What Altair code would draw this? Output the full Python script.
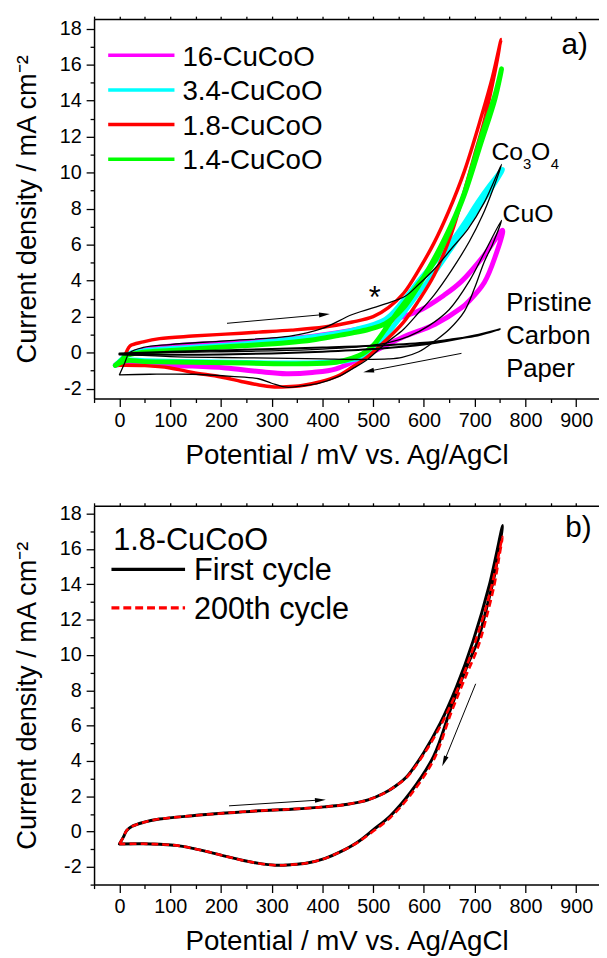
import altair as alt
import numpy as np
import pandas as pd

FONT = "Liberation Sans"

# ---------------- panel a data ----------------
labels_a = ["16-CuCoO", "3.4-CuCoO", "1.8-CuCoO", "1.4-CuCoO"]
colors_a = ["#FF00FF", "#00FFFF", "#FF0000", "#00FF00"]

cu16_x = [-8, 5, 14, 47, 79, 144, 242, 329, 427, 492, 524, 589, 640, 674, 719, 755,
          740, 719, 690, 674, 622, 557, 492, 427, 380, 329, 275, 209, 144, 80, 14, -8]
cu16_y = [-0.7, -0.4, -0.15, 0.15, 0.3, 0.45, 0.6, 0.75, 1.1, 1.45, 1.7, 2.31, 3.2, 3.96, 5.42, 6.8,
          5.3, 3.9, 2.9, 2.49, 1.58, 0.84, -0.07, -0.9, -1.1, -1.17, -1.05, -0.85, -0.75, -0.7, -0.6, -0.7]

cu34_x = [-8, 5, 14, 47, 144, 242, 329, 400, 460, 524, 557, 589, 622, 654, 680, 706, 730, 755,
          730, 706, 680, 654, 622, 589, 560, 524, 500, 479, 446, 400, 330, 250, 144, 50, 14, -8]
cu34_y = [-0.7, -0.35, -0.1, 0.1, 0.3, 0.48, 0.72, 0.95, 1.25, 1.85, 2.8, 3.96, 5.05, 6.15, 7.2, 8.35, 9.3, 10.18,
          9.0, 8.0, 6.9, 5.8, 4.5, 3.3, 2.2, 0.9, 0.1, -0.25, -0.45, -0.55, -0.58, -0.55, -0.5, -0.45, -0.42, -0.7]

cu18_x = [0, 8, 14, 21, 47, 79, 144, 209, 274, 339, 404, 459, 500, 530, 560, 590, 620, 648, 680, 713, 735, 752,
          740, 720, 700, 680, 654, 620, 589, 560, 524, 490, 459, 430, 394, 360, 329, 300, 275, 240, 200, 144, 100, 50, 0]
cu18_y = [-0.7, -0.3, 0.05, 0.38, 0.6, 0.78, 0.92, 1.03, 1.14, 1.25, 1.42, 1.7, 2.0, 2.5, 3.3, 4.6, 6.1, 7.8, 10.1, 13.1, 15.3, 17.4,
          15.6, 13.0, 11.0, 9.0, 6.6, 4.3, 2.86, 1.7, 0.66, -0.2, -0.8, -1.3, -1.63, -1.83, -1.9, -1.9, -1.8, -1.6, -1.35, -1.1, -0.85, -0.72, -0.7]

cu14_x = [-8, 5, 14, 47, 100, 144, 242, 329, 380, 427, 460, 492, 524, 557, 589, 622, 654, 680, 713, 740, 753,
          740, 713, 680, 654, 622, 589, 560, 544, 524, 500, 479, 459, 427, 362, 250, 144, 50, 14, -8]
cu14_y = [-0.71, -0.4, -0.16, 0.02, 0.12, 0.2, 0.38, 0.55, 0.7, 0.93, 1.1, 1.3, 1.61, 2.4, 3.7, 5.3, 7.1, 8.9, 12.0, 14.3, 15.77,
          14.1, 11.7, 8.8, 7.0, 5.1, 3.8, 2.7, 2.1, 1.3, 0.4, -0.07, -0.3, -0.53, -0.62, -0.58, -0.53, -0.5, -0.44, -0.71]

co3o4_x = [0, 10, 20, 47, 100, 209, 339, 400, 459, 524, 563, 590, 622, 655, 687, 719, 753,
           735, 715, 690, 655, 620, 589, 560, 524, 490, 459, 430, 394, 360, 329, 300, 274, 220, 144, 60, 0]
co3o4_y = [-1.23, -0.6, 0.0, 0.29, 0.45, 0.66, 0.93, 1.35, 2.12, 2.71, 3.13, 3.8, 4.69, 5.8, 6.88, 8.35, 10.46,
           9.0, 7.6, 6.2, 4.6, 3.2, 2.2, 1.3, 0.5, -0.35, -0.9, -1.35, -1.7, -1.85, -1.92, -1.7, -1.45, -1.32, -1.2, -1.2, -1.23]

cuo_x = [0, 100, 200, 300, 400, 480, 530, 570, 610, 650, 690, 720, 753,
         735, 719, 700, 680, 650, 622, 590, 557, 530, 480, 400, 300, 200, 100, 0]
cuo_y = [-0.07, 0.0, 0.05, 0.1, 0.2, 0.35, 0.55, 0.9, 1.5, 2.4, 4.0, 5.6, 7.35,
         6.0, 5.05, 3.6, 2.31, 1.3, 0.66, 0.05, -0.26, -0.35, -0.38, -0.35, -0.3, -0.27, -0.22, -0.1]

carbon_x = [0, 100, 200, 300, 400, 500, 600, 650, 700, 750, 700, 600, 500, 400, 300, 200, 100, 0]
carbon_y = [-0.05, 0.05, 0.12, 0.2, 0.28, 0.38, 0.55, 0.72, 0.92, 1.3, 0.95, 0.45, 0.2, 0.05, -0.05, -0.1, -0.12, -0.1]

arrow_a_x0 = [212, 674]
arrow_a_y0 = [1.63, -0.04]
arrow_a_x1 = [404, 491]
arrow_a_y1 = [2.12, -1.03]

# ---------------- panel b data ----------------
labels_b = ["First cycle", "200th cycle"]

first_x = [0, 8, 14, 25, 47, 79, 144, 209, 274, 339, 404, 450, 490, 521, 545, 567, 599, 632, 664, 697, 729, 755,
           748, 739, 723, 706, 684, 654, 619, 573, 534, 500, 469, 435, 404, 370, 339, 307, 275, 242, 210, 177, 145, 112, 80, 47, 0]
first_y = [-0.7, -0.3, 0.05, 0.3, 0.52, 0.71, 0.9, 1.05, 1.18, 1.27, 1.4, 1.55, 1.8, 2.17, 2.6, 3.14, 4.44, 6.12, 8.18, 10.8, 13.97, 17.33,
           16.0, 14.5, 12.6, 10.8, 9.3, 7.06, 4.26, 2.2, 0.9, 0.1, -0.6, -1.15, -1.53, -1.78, -1.87, -1.9, -1.8, -1.62, -1.4, -1.16, -0.95, -0.78, -0.72, -0.69, -0.7]

c200_x = [0, 8, 14, 25, 47, 79, 144, 209, 274, 339, 404, 450, 490, 521, 545, 567, 599, 632, 664, 697, 729, 755,
          748, 739, 723, 706, 684, 654, 619, 573, 534, 500, 469, 435, 404, 370, 339, 307, 275, 242, 210, 177, 145, 112, 80, 47, 0]
c200_y = [-0.7, -0.3, 0.05, 0.3, 0.52, 0.71, 0.9, 1.05, 1.18, 1.27, 1.4, 1.55, 1.8, 2.17, 2.6, 3.1, 4.35, 5.95, 7.9, 10.4, 13.4, 16.7,
          15.5, 14.0, 12.1, 10.4, 8.9, 6.75, 4.05, 2.05, 0.8, 0.02, -0.62, -1.15, -1.53, -1.78, -1.87, -1.9, -1.8, -1.62, -1.4, -1.16, -0.95, -0.78, -0.72, -0.69, -0.7]

arrow_b_x0 = [216, 702]
arrow_b_y0 = [1.46, 8.37]
arrow_b_x1 = [396, 640]
arrow_b_y1 = [1.79, 3.98]

# ---------------- layout constants ----------------
XMIN, XMAX = -50, 945
W = 510.5
HA, YA = 383.6, (-2.55, 18.53)
HB, YB = 383.0, (-3.0, 18.45)


def xsc():
    return alt.Scale(domain=[XMIN, XMAX], nice=False, zero=False)


def ysc(dom):
    return alt.Scale(domain=list(dom), nice=False, zero=False)


def line(xs, ys, ydom, color, width, dash=None):
    df = pd.DataFrame({"x": xs, "y": ys, "i": np.arange(len(xs))})
    kw = dict(color=color, strokeWidth=width, interpolate="catmull-rom",
              strokeCap="round", strokeJoin="round")
    if dash:
        kw["strokeDash"] = dash
        kw["strokeCap"] = "butt"
    return alt.Chart(df).mark_line(**kw).encode(
        x=alt.X("x:Q", scale=xsc(), axis=None),
        y=alt.Y("y:Q", scale=ysc(ydom), axis=None),
        order="i:Q",
    )


def text(t, x, y, ydom, size, align="left", baseline="alphabetic"):
    df = pd.DataFrame({"x": [x], "y": [y], "t": [t]})
    return alt.Chart(df).mark_text(font=FONT, fontSize=size, align=align,
                                   baseline=baseline, color="black").encode(
        x=alt.X("x:Q", scale=xsc(), axis=None),
        y=alt.Y("y:Q", scale=ysc(ydom), axis=None),
        text="t:N",
    )


def arrows(x0, y0, x1, y1, ydom, h):
    sx = W / (XMAX - XMIN)
    sy = h / (ydom[1] - ydom[0])
    ang = [(np.degrees(np.arctan2((b - a) * sx, (d - c) * sy)) + 360) % 360
           for a, b, c, d in zip(x0, x1, y0, y1)]
    df = pd.DataFrame({"x0": x0, "y0": y0, "x1": x1, "y1": y1, "ang": ang})
    base = alt.Chart(df)
    shaft = base.mark_rule(color="black", strokeWidth=1).encode(
        x=alt.X("x0:Q", scale=xsc(), axis=None),
        y=alt.Y("y0:Q", scale=ysc(ydom), axis=None),
        x2="x1:Q", y2="y1:Q")
    head = base.mark_point(shape="M0,-1L0.45,1L-0.45,1Z", filled=True, fill="black",
                           color="black", opacity=1, size=120, strokeWidth=0.5).encode(
        x=alt.X("x1:Q", scale=xsc(), axis=None),
        y=alt.Y("y1:Q", scale=ysc(ydom), axis=None),
        angle=alt.Angle("ang:Q", scale=None))
    return [shaft, head]


def axes(ydom, ylo):
    base = alt.Chart(pd.DataFrame({"x": [0.0], "y": [0.0]})).mark_point(opacity=0)
    xvals = list(range(-50, XMAX + 1, 50))
    yvals = list(range(ylo, int(ydom[1]) + 1))
    bottom = base.encode(
        x=alt.X("x:Q", scale=xsc(), axis=alt.Axis(
            orient="bottom", values=xvals, title="Potential / mV vs. Ag/AgCl",
            labelExpr="datum.value % 100 === 0 ? '' + datum.value : ''",
            tickSize={"condition": {"test": "datum.value % 100 === 0", "value": 8}, "value": 4},
            labelPadding=4, titlePadding=12, titleFontSize=28,
            labelOverlap=False, labelFlush=False)),
        y=alt.Y("y:Q", scale=ysc(ydom), axis=alt.Axis(
            orient="left", values=yvals, title="Current density / mA cm\u207b\u00b2",
            labelExpr="datum.value % 2 === 0 ? (datum.value < 0 ? '-' + (-datum.value) : '' + datum.value) : ''",
            tickSize={"condition": {"test": "datum.value % 2 === 0", "value": 8}, "value": 4},
            labelPadding=5, titlePadding=18, titleFontSize=27.5,
            labelOverlap=False, labelFlush=False)),
    )
    top = base.encode(
        x=alt.X("x:Q", scale=xsc(), axis=alt.Axis(
            orient="top", values=xvals, labels=False, tickSize=3, title=None)),
    )
    return [bottom, top]


# ---------------- panel a ----------------
layers_a = axes(YA, -2)
widths_a = [5, 5, 3.5, 5]
for xs, ys, c, w in zip([cu16_x, cu34_x, cu18_x, cu14_x], [cu16_y, cu34_y, cu18_y, cu14_y], colors_a, widths_a):
    layers_a.append(line(xs, ys, YA, c, w))
layers_a.append(line(co3o4_x, co3o4_y, YA, "black", 1.3))
layers_a.append(line(cuo_x, cuo_y, YA, "black", 1.3))
layers_a.append(line(carbon_x, carbon_y, YA, "black", 2))
layers_a += arrows(arrow_a_x0, arrow_a_y0, arrow_a_x1, arrow_a_y1, YA, HA)

layers_a += [
    text("Co", 733, 10.73, YA, 25), text("3", 795, 10.18, YA, 15),
    text("O", 811, 10.73, YA, 25), text("4", 850, 10.18, YA, 15),
    text("CuO", 755, 7.25, YA, 25),
    text("Pristine", 762, 2.31, YA, 26), text("Carbon", 762, 0.48, YA, 26), text("Paper", 762, -1.36, YA, 26),
    text("a)", 871, 16.59, YA, 30),
    text("*", 503, 2.5, YA, 31, align="center"),
]
one = pd.DataFrame({"a": [0]})
for k, (lab, c) in enumerate(zip(labels_a, colors_a)):
    yy = 36.6 + 35 * k
    layers_a.append(alt.Chart(one).mark_rule(color=c, strokeWidth=3.5).encode(
        x=alt.value(14.3), x2=alt.value(81.3), y=alt.value(yy)))
    layers_a.append(alt.Chart(one).mark_text(font=FONT, fontSize=28, align="left",
                                             baseline="alphabetic", color="black").encode(
        x=alt.value(89.3), y=alt.value(yy + 10.4), text=alt.value(lab)))

panel_a = alt.layer(*layers_a).resolve_axis(x="independent", y="independent").properties(width=W, height=HA)

# ---------------- panel b ----------------
layers_b = axes(YB, -3)
layers_b.append(line(first_x, first_y, YB, "black", 3))
layers_b.append(line(c200_x, c200_y, YB, "#FF0000", 2.6, dash=[7, 4]))
layers_b += arrows(arrow_b_x0, arrow_b_y0, arrow_b_x1, arrow_b_y1, YB, HB)
layers_b.append(text("b)", 878.5, 16.68, YB, 30))
layers_b.append(alt.Chart(one).mark_text(font=FONT, fontSize=31, align="left",
                                         baseline="alphabetic", color="black").encode(
    x=alt.value(19.3), y=alt.value(45), text=alt.value("1.8-CuCoO")))
leg_b_style = [("black", None), ("#FF0000", [8, 4])]
for k, (lab, (c, d)) in enumerate(zip(labels_b, leg_b_style)):
    yy = 64.3 + 39 * k
    kw = dict(color=c, strokeWidth=3.2)
    if d:
        kw["strokeDash"] = d
    layers_b.append(alt.Chart(one).mark_rule(**kw).encode(
        x=alt.value(17.6), x2=alt.value(92), y=alt.value(yy)))
    layers_b.append(alt.Chart(one).mark_text(font=FONT, fontSize=31, align="left",
                                             baseline="alphabetic", color="black").encode(
        x=alt.value(101), y=alt.value(yy + 10.7), text=alt.value(lab)))

panel_b = alt.layer(*layers_b).resolve_axis(x="independent", y="independent").properties(width=W, height=HB)

chart = alt.vconcat(panel_a, panel_b, spacing=32).properties(
    padding={"left": 5, "top": 2, "right": 0, "bottom": 0}
).configure_view(strokeWidth=0).configure_axis(
    labelFont=FONT, titleFont=FONT, labelFontSize=20, titleFontWeight="normal",
    labelColor="black", titleColor="black", domainColor="black", tickColor="black",
    domainWidth=1.5, tickWidth=1.3, grid=False,
)

chart.save("out.html", embed_options={"renderer": "svg", "actions": False})
